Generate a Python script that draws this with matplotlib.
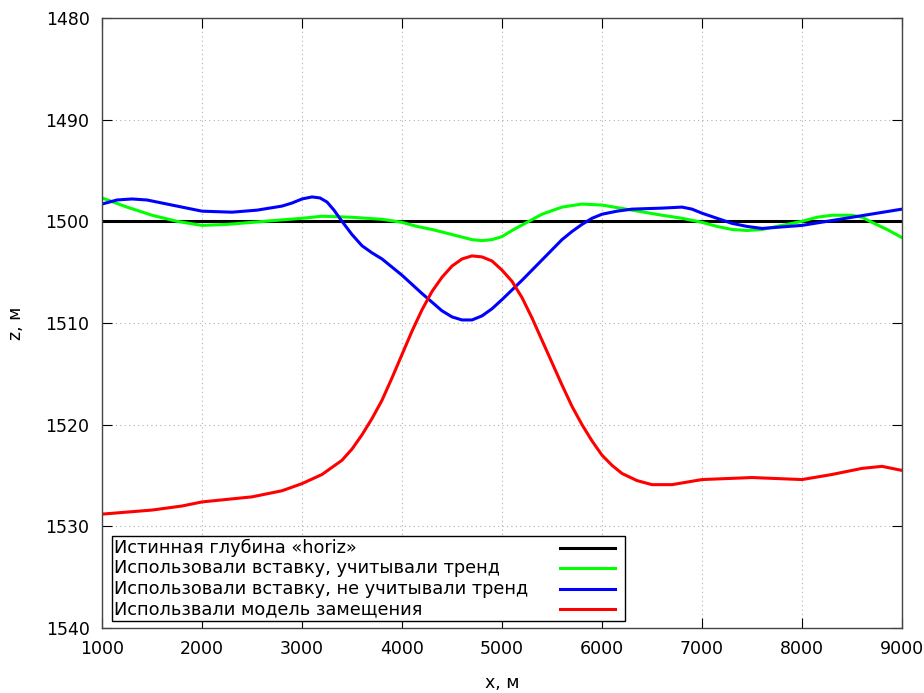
import matplotlib
matplotlib.use("Agg")
import matplotlib.pyplot as plt
from matplotlib.lines import Line2D

plt.rcParams['font.family'] = ['DejaVu Sans']

# true horizon depth
x_true = [1000, 9000]
z_true = [1500, 1500]

# used insertion, accounted for trend
x_green = [1000, 1250, 1500, 1750, 2000, 2250, 2500, 2750, 3000, 3200, 3500, 3800, 4000,
           4150, 4300, 4500, 4700, 4800, 4900, 5000, 5100, 5250, 5400, 5600, 5800, 6000,
           6300, 6600, 6800, 7000, 7150, 7300, 7450, 7600, 7800, 8000, 8150, 8300, 8500,
           8600, 8700, 8850, 9000]
z_green = [1497.7, 1498.6, 1499.4, 1500.0, 1500.4, 1500.3, 1500.1, 1499.9, 1499.7, 1499.5,
           1499.6, 1499.8, 1500.1, 1500.5, 1500.8, 1501.3, 1501.8, 1501.9, 1501.8, 1501.5,
           1500.9, 1500.1, 1499.3, 1498.6, 1498.3, 1498.4, 1498.9, 1499.4, 1499.7, 1500.1,
           1500.5, 1500.8, 1500.9, 1500.8, 1500.4, 1500.0, 1499.6, 1499.4, 1499.4, 1499.6,
           1500.1, 1500.8, 1501.6]

# used insertion, trend not accounted
x_blue = [1000, 1150, 1300, 1450, 1600, 1800, 2000, 2300, 2550, 2800, 2900, 3000, 3100,
          3180, 3250, 3320, 3400, 3500, 3600, 3700, 3800, 4000, 4200, 4400, 4500, 4600,
          4700, 4800, 4900, 5000, 5200, 5400, 5600, 5700, 5800, 5900, 6000, 6150, 6300,
          6600, 6800, 6900, 7000, 7150, 7300, 7450, 7600, 8000, 8500, 9000]
z_blue = [1498.3, 1497.9, 1497.8, 1497.9, 1498.2, 1498.6, 1499.0, 1499.1, 1498.9, 1498.5,
          1498.2, 1497.8, 1497.6, 1497.7, 1498.1, 1498.9, 1500.0, 1501.3, 1502.4, 1503.1,
          1503.7, 1505.3, 1507.1, 1508.8, 1509.4, 1509.7, 1509.7, 1509.3, 1508.6, 1507.7,
          1505.8, 1503.8, 1501.8, 1501.0, 1500.3, 1499.7, 1499.3, 1499.0, 1498.8, 1498.7,
          1498.6, 1498.8, 1499.2, 1499.7, 1500.2, 1500.5, 1500.7, 1500.4, 1499.6, 1498.8]

# used substitution model
x_red = [1000, 1500, 1800, 2000, 2500, 2800, 3000, 3200, 3400, 3500, 3600, 3700, 3800,
         3900, 4000, 4100, 4200, 4300, 4400, 4500, 4600, 4700, 4800, 4900, 5000, 5100,
         5200, 5300, 5400, 5500, 5600, 5700, 5800, 5900, 6000, 6100, 6200, 6350, 6500,
         6700, 7000, 7500, 8000, 8300, 8600, 8800, 9000]
z_red = [1528.8, 1528.4, 1528.0, 1527.6, 1527.1, 1526.5, 1525.8, 1524.9, 1523.5, 1522.4,
         1521.0, 1519.4, 1517.6, 1515.4, 1513.1, 1510.8, 1508.7, 1506.9, 1505.5, 1504.4,
         1503.7, 1503.4, 1503.5, 1503.9, 1504.8, 1505.9, 1507.5, 1509.5, 1511.7, 1513.9,
         1516.1, 1518.2, 1520.0, 1521.6, 1523.0, 1524.0, 1524.8, 1525.5, 1525.9, 1525.9,
         1525.4, 1525.2, 1525.4, 1524.9, 1524.3, 1524.1, 1524.5]

labels = ["Истинная глубина «horiz»",
          "Использовали вставку, учитывали тренд",
          "Использовали вставку, не учитывали тренд",
          "Использвали модель замещения"]
colors = ["black", "#00ff00", "#0000ff", "#ff0000"]

xticks = list(range(1000, 9001, 1000))
yticks = list(range(1480, 1541, 10))

fig = plt.figure(figsize=(9.24, 6.93), dpi=100)
ax = fig.add_axes([102/924, 1 - 628/693, 800/924, 610/693])

lw = 2.2
ax.plot(x_true, z_true, color=colors[0], lw=lw)
ax.plot(x_green, z_green, color=colors[1], lw=lw)
ax.plot(x_blue, z_blue, color=colors[2], lw=lw)
ax.plot(x_red, z_red, color=colors[3], lw=lw)

ax.set_xlim(1000, 9000)
ax.set_ylim(1540, 1480)
ax.set_xticks(xticks)
ax.set_yticks(yticks)
ax.tick_params(direction='in', length=7, top=True, right=True, labelsize=12.5, pad=9)
ax.grid(True, linestyle=(0, (1, 3)), color='#b0b0b0', lw=0.8)
for s in ax.spines.values():
    s.set_color('#444444')
    s.set_linewidth(1)

fig.text(502/924, 1 - 683/693, "x, м", fontsize=12.5, ha='center', va='center')
fig.text(16/924, 1 - 323/693, "z, м", fontsize=12.5, ha='center', va='center', rotation=90)

# gnuplot-style key box
ax.add_patch(plt.Rectangle((0.0125, 0.0115), 0.6415, 0.1393, transform=ax.transAxes,
                           facecolor='white', edgecolor='black', lw=1, zorder=5))
rows = [(628 - 548) / 610, (628 - 568) / 610, (628 - 589) / 610, (628 - 609) / 610]
for lab, col, yy in zip(labels, colors, rows):
    ax.text(0.015, yy, lab, transform=ax.transAxes, fontsize=12.8, va='center',
            ha='left', zorder=6)
    ax.add_line(Line2D([0.5725, 0.64125], [yy, yy], transform=ax.transAxes,
                       color=col, lw=lw, zorder=6))

fig.savefig("out.png", dpi=100)
